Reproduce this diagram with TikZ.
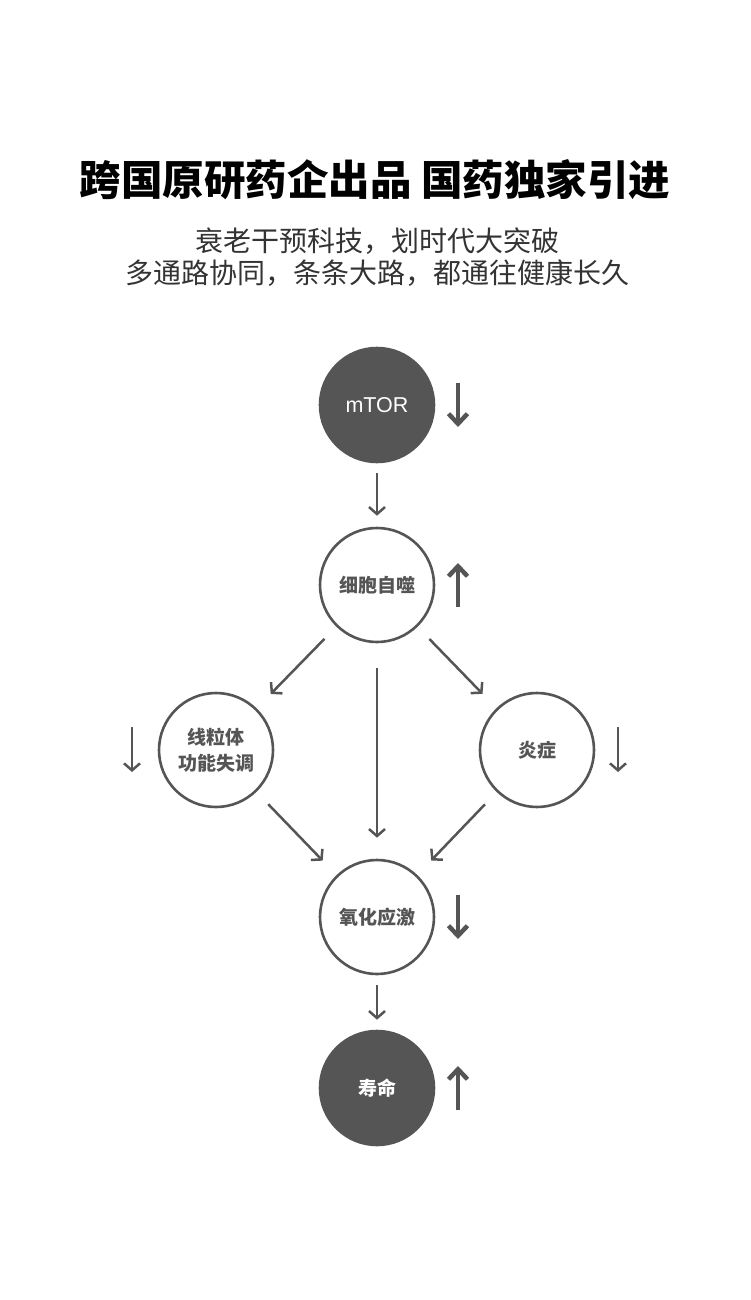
\documentclass[tikz,border=0pt]{standalone}
\usepackage{fontspec}
\setmainfont{Noto Sans CJK SC}
\newfontfamily\latin{Liberation Sans}
\usepackage{tikz}
\usetikzlibrary{arrows.meta, calc}

\definecolor{ink}{HTML}{555555}
\definecolor{subink}{HTML}{333333}

\begin{document}
\begin{tikzpicture}[x=1pt, y=-1pt,
        stage/.style={circle, draw=ink, line width=2.6pt, minimum size=114pt,
                      inner sep=0pt, align=center, text=ink,
                      font=\fontsize{19}{26}\selectfont\bfseries},
        darkstage/.style={stage, fill=ink, text=white},
        link/.style={-{Straight Barb[length=7pt, width=16pt]}, line width=2.5pt, draw=ink},
        trend/.style={-{Straight Barb[length=10pt, width=19pt]}, line width=4.5pt, draw=ink}
    ]
        \useasboundingbox (0,0) rectangle (750,1300);

        \node[font=\fontsize{41.5}{46}\selectfont\bfseries, text=black] (title) at (375,180)
            {跨国原研药企出品 国药独家引进};
        \node[font=\fontsize{28}{32}\selectfont, text=subink, align=center] (sub) at (377,257)
            {衰老干预科技，划时代大突破\\多通路协同，条条大路，都通往健康长久};

        \node[darkstage, font=\fontsize{21.5}{24}\latin] (mtor) at (377,405) {mTOR};
        \node[stage] (auto) at (377,585) {细胞自噬};
        \node[stage] (mito) at (216,750) {线粒体\\功能失调};
        \node[stage] (infl) at (537,750) {炎症};
        \node[stage] (oxid) at (377,917) {氧化应激};
        \node[darkstage] (life) at (377,1088) {寿命};

        \draw[link, shorten <=10pt, shorten >=11pt] (mtor) -- (auto);
        \draw[link, shorten <=25pt, shorten >=21pt] (auto) -- (oxid);
        \draw[link, shorten <=10pt, shorten >=10pt] (oxid) -- (life);
        \foreach \a/\b in {auto/mito, auto/infl, mito/oxid, infl/oxid}
            \draw[link, shorten <=17pt, shorten >=20pt] (\a) -- (\b);

        % up / down markers
        \draw[trend] ($(mtor.center)+(81,-22)$) -- ++(0,44);
        \draw[trend] ($(auto.center)+(81,22)$) -- ++(0,-44);
        \draw[trend] ($(oxid.center)+(81,-22)$) -- ++(0,44);
        \draw[trend] ($(life.center)+(81,22)$) -- ++(0,-44);
        \draw[link] ($(mito.center)+(-84,-23)$) -- ++(0,45);
        \draw[link] ($(infl.center)+(81,-23)$) -- ++(0,45);
    \end{tikzpicture}
\end{document}
